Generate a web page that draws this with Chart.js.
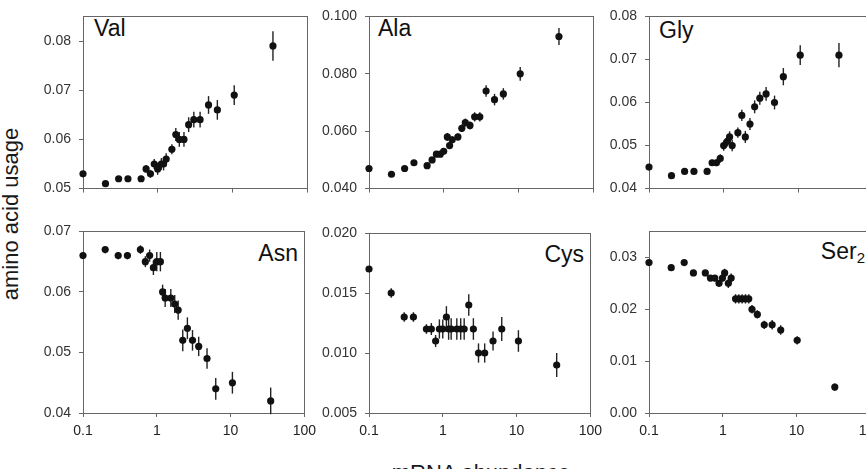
<!DOCTYPE html>
<html>
<head>
<meta charset="utf-8">
<script src="https://cdn.jsdelivr.net/npm/chart.js@4"></script>
<style>
	body {margin: 0; background: #fff; overflow: hidden}
	#page {position: relative; width: 866px; height: 469px; overflow: hidden; font-family: 'Liberation Sans', Arial, sans-serif; color: #111}
	#page canvas {position: absolute}
	.name {position: absolute; font-size: 23px; line-height: 23px; white-space: nowrap}
	.name.right {text-align: right; width: 120px}
	.name sub {font-size: 15px; line-height: 0; vertical-align: -4px}
	.title {position: absolute; font-size: 22px; line-height: 22px; white-space: nowrap; color: #1a1a1a}
</style>
</head>
<body>
<div id="page">
	<div class="name" style="left: 94px; top: 17px">Val</div>
	<div class="name" style="left: 378px; top: 17px">Ala</div>
	<div class="name" style="left: 659px; top: 19px">Gly</div>
	<div class="name right" style="left: 178px; top: 242px">Asn</div>
	<div class="name right" style="left: 464px; top: 243px">Cys</div>
	<div class="name right" style="left: 745px; top: 240px">Ser<sub>2</sub></div>
	<div class="title" style="left: 11px; top: 214px; transform: translate(-50%, -50%) rotate(-90deg)">amino acid usage</div>
	<div class="title" style="left: 481px; top: 462px; transform: translateX(-50%)">mRNA abundance</div>
</div>
<script>
// mRNA abundance bins (x), shared by most panels
const abundance = [0.1, 0.2, 0.3, 0.4, 0.6, 0.7, 0.8, 0.9, 1.0, 1.12, 1.2, 1.3, 1.55, 1.75, 1.95, 2.25, 2.6, 3.05, 3.7, 4.8, 6.3, 10.6, 35]
const abundanceSer = [0.1, 0.2, 0.3, 0.4, 0.58, 0.68, 0.78, 0.89, 0.99, 1.06, 1.19, 1.3, 1.49, 1.65, 1.83, 2.03, 2.25, 2.49, 2.94, 3.65, 4.67, 6.1, 10.2, 33]
const abundanceTicks = [0.1, 1, 10, 100]

const valUsage = [0.053, 0.051, 0.052, 0.052, 0.052, 0.054, 0.053, 0.055, 0.054, 0.055, 0.055, 0.056, 0.058, 0.061, 0.060, 0.060, 0.063, 0.064, 0.064, 0.067, 0.066, 0.069, 0.079]
const valError = [0.0003, 0.0005, 0.0005, 0.0005, 0.0006, 0.0008, 0.0008, 0.001, 0.0012, 0.0012, 0.0013, 0.0012, 0.001, 0.0013, 0.0015, 0.0015, 0.0015, 0.0016, 0.0016, 0.0018, 0.002, 0.002, 0.003]
const valTicks = [0.05, 0.06, 0.07, 0.08]

const alaUsage = [0.047, 0.045, 0.047, 0.049, 0.048, 0.050, 0.052, 0.052, 0.053, 0.058, 0.055, 0.057, 0.058, 0.061, 0.063, 0.062, 0.065, 0.065, 0.074, 0.071, 0.073, 0.080, 0.093]
const alaError = [0.0003, 0.0005, 0.0005, 0.0006, 0.0006, 0.0008, 0.0009, 0.001, 0.001, 0.0014, 0.0012, 0.0012, 0.0012, 0.0013, 0.0014, 0.0014, 0.0016, 0.0016, 0.002, 0.002, 0.002, 0.0024, 0.003]
const alaTicks = [0.04, 0.06, 0.08, 0.10]

const glyUsage = [0.045, 0.043, 0.044, 0.044, 0.044, 0.046, 0.046, 0.047, 0.050, 0.051, 0.052, 0.050, 0.053, 0.057, 0.052, 0.055, 0.059, 0.061, 0.062, 0.060, 0.066, 0.071, 0.071]
const glyError = [0.0003, 0.0005, 0.0005, 0.0005, 0.0005, 0.0007, 0.0008, 0.001, 0.0012, 0.0012, 0.0013, 0.0013, 0.0012, 0.0013, 0.0014, 0.0014, 0.0015, 0.0015, 0.0016, 0.0016, 0.002, 0.0023, 0.0028]
const glyTicks = [0.04, 0.05, 0.06, 0.07, 0.08]

const asnUsage = [0.066, 0.067, 0.066, 0.066, 0.067, 0.065, 0.066, 0.064, 0.065, 0.065, 0.060, 0.059, 0.059, 0.058, 0.057, 0.052, 0.054, 0.052, 0.051, 0.049, 0.044, 0.045, 0.042]
const asnError = [0.0003, 0.0006, 0.0006, 0.0006, 0.0007, 0.0009, 0.001, 0.0012, 0.0016, 0.0016, 0.0012, 0.0015, 0.0015, 0.0015, 0.0016, 0.0018, 0.0018, 0.0017, 0.0016, 0.0017, 0.0018, 0.0018, 0.0022]
const asnTicks = [0.04, 0.05, 0.06, 0.07]

const cysUsage = [0.017, 0.015, 0.013, 0.013, 0.012, 0.012, 0.011, 0.012, 0.012, 0.013, 0.012, 0.012, 0.012, 0.012, 0.012, 0.014, 0.012, 0.010, 0.010, 0.011, 0.012, 0.011, 0.009]
const cysError = [0.0002, 0.0004, 0.0004, 0.0004, 0.0004, 0.0005, 0.0005, 0.0008, 0.0008, 0.0009, 0.0009, 0.0009, 0.0009, 0.0009, 0.0009, 0.0009, 0.0009, 0.0008, 0.0008, 0.0008, 0.001, 0.0009, 0.001]
const cysTicks = [0.005, 0.010, 0.015, 0.020]

const serUsage = [0.029, 0.028, 0.029, 0.027, 0.027, 0.026, 0.026, 0.025, 0.026, 0.027, 0.025, 0.026, 0.022, 0.022, 0.022, 0.022, 0.022, 0.020, 0.019, 0.017, 0.017, 0.016, 0.014, 0.005]
const serError = [0.0003, 0.0004, 0.0004, 0.0004, 0.0005, 0.0005, 0.0006, 0.0006, 0.0007, 0.0008, 0.0009, 0.0009, 0.0009, 0.0009, 0.0009, 0.0009, 0.0009, 0.0008, 0.0008, 0.0008, 0.0009, 0.0009, 0.0008, 0.0007]
const serTicks = [0, 0.01, 0.02, 0.03]

// canvas boxes: [left, top, width, height]; plot area is fixed by axis sizes
const panels = [
	{x: abundance, y: valUsage, err: valError, ticks: valTicks, min: 0.05, max: 0.085, digits: 2, box: [28, 0, 294, 205], axisWidth: 55, padTop: 9, labels: false},
	{x: abundance, y: alaUsage, err: alaError, ticks: alaTicks, min: 0.04, max: 0.10, digits: 3, box: [312, 0, 296, 205], axisWidth: 57, padTop: 9, labels: false},
	{x: abundance, y: glyUsage, err: glyError, ticks: glyTicks, min: 0.04, max: 0.08, digits: 2, box: [598, 0, 290, 205], axisWidth: 51, padTop: 9, labels: false},
	{x: abundance, y: asnUsage, err: asnError, ticks: asnTicks, min: 0.04, max: 0.07, digits: 2, box: [28, 215, 294, 235], axisWidth: 55, padTop: 16, labels: true},
	{x: abundance, y: cysUsage, err: cysError, ticks: cysTicks, min: 0.005, max: 0.020, digits: 3, box: [312, 215, 296, 235], axisWidth: 57, padTop: 18, labels: true},
	{x: abundanceSer, y: serUsage, err: serError, ticks: serTicks, min: 0, max: 0.035, digits: 2, box: [598, 215, 290, 235], axisWidth: 51, padTop: 16, labels: true},
]

const frame = {
	id: 'frame',
	beforeDatasetsDraw(chart) {
		const {ctx, chartArea} = chart
		ctx.save()
		ctx.strokeStyle = '#666'
		ctx.lineWidth = 1
		ctx.strokeRect(Math.round(chartArea.left) + 0.5, Math.round(chartArea.top) + 0.5,
			Math.round(chartArea.width), Math.round(chartArea.height))
		ctx.restore()
	},
}

const errorBars = {
	id: 'errorBars',
	beforeDatasetsDraw(chart) {
		const {ctx, scales} = chart
		const dataset = chart.data.datasets[0]
		ctx.save()
		ctx.strokeStyle = '#222'
		ctx.lineWidth = 1.4
		dataset.data.forEach((point, index) => {
			const error = dataset.errors[index]
			const px = scales.x.getPixelForValue(point.x)
			ctx.beginPath()
			ctx.moveTo(px, scales.y.getPixelForValue(point.y + error))
			ctx.lineTo(px, scales.y.getPixelForValue(point.y - error))
			ctx.stroke()
		})
		ctx.restore()
	},
}

const page = document.getElementById('page')
const font = {family: "'Liberation Sans', Arial, sans-serif", size: 14}

for (const panel of panels) {
	const [left, top, width, height] = panel.box
	const canvas = document.createElement('canvas')
	canvas.width = width
	canvas.height = height
	canvas.style.left = left + 'px'
	canvas.style.top = top + 'px'
	page.appendChild(canvas)
	const xAxisHeight = panel.labels ? 37 : 12
	new Chart(canvas, {
		type: 'scatter',
		data: {
			datasets: [{
				data: panel.x.map((x, index) => ({x, y: panel.y[index]})),
				errors: panel.err,
				backgroundColor: '#111',
				borderWidth: 0,
				pointRadius: 3.6,
				pointHoverRadius: 3.6,
				clip: false,
			}],
		},
		options: {
			responsive: false,
			animation: false,
			events: [],
			layout: {padding: {top: panel.padTop, right: 15, left: 0, bottom: 0}},
			scales: {
				x: {
					type: 'logarithmic',
					min: 0.1,
					max: 100,
					border: {display: false},
					grid: {drawOnChartArea: false, tickLength: 4, tickColor: '#666'},
					afterBuildTicks: scale => {
						scale.ticks = abundanceTicks.map(value => ({value}))
					},
					afterFit: scale => {
						scale.height = xAxisHeight
					},
					ticks: {
						display: panel.labels,
						autoSkip: false,
						maxRotation: 0,
						padding: 6,
						color: '#222',
						font,
						callback: value => String(value),
					},
				},
				y: {
					min: panel.min,
					max: panel.max,
					border: {display: false},
					grid: {drawOnChartArea: false, tickLength: 4, tickColor: '#666'},
					afterBuildTicks: scale => {
						scale.ticks = panel.ticks.map(value => ({value}))
					},
					afterFit: scale => {
						scale.width = panel.axisWidth
					},
					ticks: {
						padding: 8,
						color: '#333',
						font,
						callback: value => value.toFixed(panel.digits),
					},
				},
			},
			plugins: {
				legend: {display: false},
				tooltip: {enabled: false},
			},
		},
		plugins: [frame, errorBars],
	})
}
</script>
</body>
</html>
